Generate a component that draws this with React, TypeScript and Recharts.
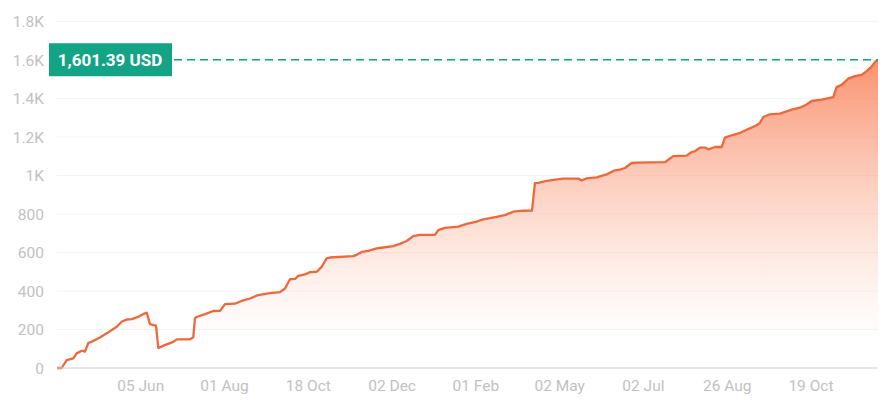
import React from "react";
import {
  ComposedChart,
  Area,
  XAxis,
  YAxis,
  CartesianGrid,
  ReferenceLine,
} from "recharts";

// position along the time axis (tick every 10 units)
const days = [
  0, 0.56, 1.16, 1.95, 2.35, 2.95, 3.34, 3.74, 4.14, 5.13, 5.93, 7.13, 7.72, 8.32, 8.92, 9.7,
  10.5, 10.71, 11.1, 11.49, 11.82, 12.09, 12.86, 13.88, 14.29, 15.87, 16.27, 16.47, 16.67,
  17.67, 18.66, 19.46, 20.05, 21.25, 22.05, 23.04, 24.03, 25.42, 26.62, 27.21, 27.81, 28.41,
  28.8, 29.6, 30.2, 31.0, 31.59, 32.19, 32.59, 35.37, 35.77, 36.37, 37.16, 38.16, 38.95,
  40.14, 40.94, 41.74, 42.53, 43.33, 45.12, 45.51, 46.31, 47.9, 48.9, 50.1, 50.88, 51.68,
  52.48, 53.47, 54.46, 55.66, 56.7, 57.05, 57.45, 58.45, 60.43, 62.22, 62.63, 63.22, 64.42,
  65.61, 66.6, 67.2, 67.8, 68.6, 69.19, 72.57, 73.56, 75.16, 75.76, 76.15, 76.75, 77.35,
  77.74, 78.54, 79.34, 79.73, 80.53, 81.52, 82.32, 82.92, 83.51, 83.91, 84.3, 85.1, 86.29,
  87.09, 87.69, 88.68, 89.48, 90.08, 91.27, 92.66, 93.06, 93.66, 94.45, 95.25, 96.05, 96.64,
  97.24, 97.64, 98.0,
];

const balance = [
  0, 0, 41, 50, 76, 90, 85, 131, 136, 159, 180, 214, 240, 252, 254, 266,
  284, 287, 228, 223, 220, 104, 119, 136, 149, 149, 160, 258, 265,
  280, 296, 297, 332, 334, 349, 361, 379, 389, 394, 413, 461, 463,
  479, 486, 498, 500, 525, 570, 574, 581, 588, 603, 608, 621, 626,
  633, 645, 660, 685, 692, 692, 716, 728, 734, 749, 761, 772, 778,
  785, 794, 812, 817, 818, 960, 962, 972, 984, 984, 974, 985, 990,
  1006, 1027, 1031, 1039, 1065, 1067, 1069, 1101, 1103, 1122, 1126, 1145, 1145,
  1136, 1148, 1148, 1197, 1209, 1221, 1238, 1249, 1261, 1273, 1304, 1318, 1321,
  1333, 1342, 1352, 1369, 1387, 1394, 1407, 1459, 1471, 1503, 1516, 1523, 1542,
  1566, 1589, 1601.39,
];

const xTickPositions = [10, 20, 30, 40, 50, 60, 70, 80, 90];
const xTickLabels = [
  "05 Jun", "01 Aug", "18 Oct", "02 Dec", "01 Feb", "02 May", "02 Jul", "26 Aug", "19 Oct",
];

const yTicks = [0, 200, 400, 600, 800, 1000, 1200, 1400, 1600, 1800];
const yTickLabels = ["0", "200", "400", "600", "800", "1K", "1.2K", "1.4K", "1.6K", "1.8K"];

const currentValue = 1601.39;
const currentLabel = "1,601.39 USD";

const data = days.map((d, i) => ({ t: d, v: balance[i] }));

const TEAL = "#13a486";
const ORANGE = "#f0673a";
const FONT = "Roboto, 'Noto Sans', sans-serif";

const renderCurrentLabel = (props: any) => {
  const vb = props.viewBox || {};
  const x = (vb.x ?? 57) - 8;
  const y = vb.y ?? 61;
  const w = 123;
  const h = 33;
  return (
    <g>
      <rect x={x} y={y - h / 2} width={w} height={h} fill={TEAL} />
      <text
        x={x + w / 2 - 0.5}
        y={y}
        dy="0.36em"
        textAnchor="middle"
        fill="#ffffff"
        fontFamily={FONT}
        fontWeight={700}
        fontSize={17}
      >
        {currentLabel}
      </text>
    </g>
  );
};

export default function App() {
  return (
    <div style={{ position: "absolute", left: 0, top: 0, background: "#fff" }}>
      <ComposedChart
        width={891}
        height={405}
        data={data}
        margin={{ top: 21.5, right: 13, bottom: 0, left: 0 }}
      >
        <defs>
          <linearGradient id="balFill" x1="0" y1="0" x2="0" y2="1">
            <stop offset="0%" stopColor="#f9764a" stopOpacity={0.8} />
            <stop offset="90%" stopColor="#fbb59c" stopOpacity={0} />
          </linearGradient>
        </defs>
        <CartesianGrid vertical={false} stroke="#f4f4f4" />
        <XAxis
          dataKey="t"
          type="number"
          domain={[0, 98]}
          ticks={xTickPositions}
          tickFormatter={(v: number) => xTickLabels[xTickPositions.indexOf(v)] ?? ""}
          height={37}
          tickLine={false}
          tickSize={0}
          tickMargin={12}
          axisLine={{ stroke: "#d4d4d4" }}
          tick={{ fill: "#c2c2c2", fontSize: 15.5, fontFamily: FONT }}
          interval={0}
          allowDataOverflow
        />
        <YAxis
          type="number"
          domain={[0, 1800]}
          ticks={yTicks}
          tickFormatter={(v: number) => yTickLabels[yTicks.indexOf(v)] ?? ""}
          width={57}
          tickLine={false}
          tickSize={0}
          tickMargin={13}
          axisLine={false}
          tick={{ fill: "#c2c2c2", fontSize: 15.5, fontFamily: FONT }}
          interval={0}
        />
        <Area
          type="linear"
          dataKey="v"
          stroke={ORANGE}
          strokeWidth={2.3}
          strokeLinejoin="round"
          fill="url(#balFill)"
          fillOpacity={1}
          dot={false}
          activeDot={false}
          isAnimationActive={false}
        />
        <ReferenceLine
          y={currentValue}
          stroke={TEAL}
          strokeWidth={1.5}
          strokeDasharray="8 5"
          label={renderCurrentLabel}
        />
      </ComposedChart>
    </div>
  );
}
